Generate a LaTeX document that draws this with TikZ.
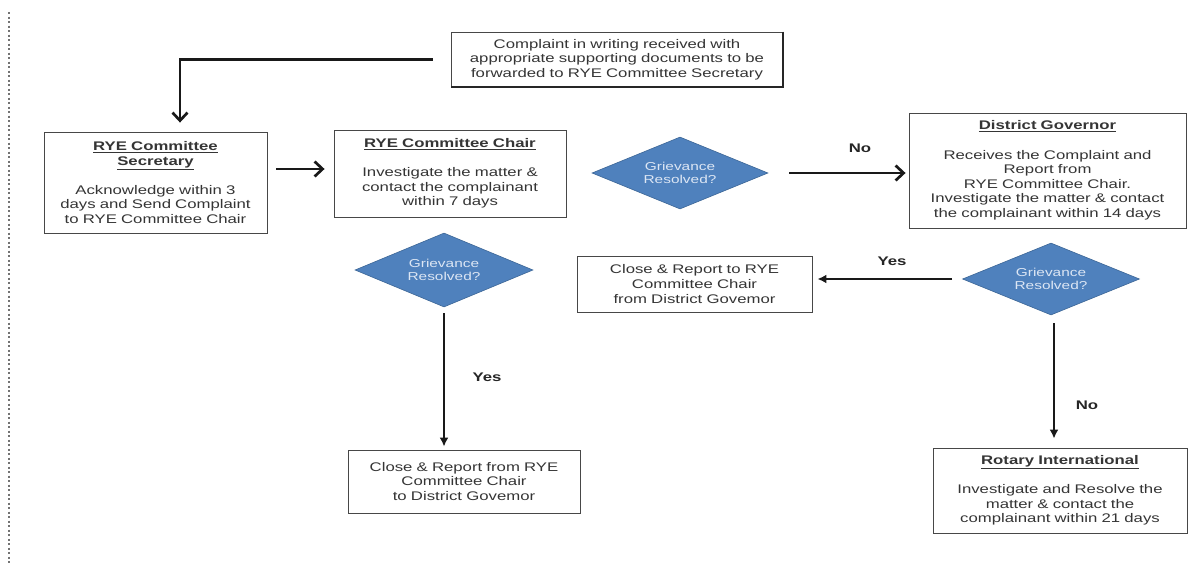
\documentclass[tikz,border=0pt]{standalone}
\usepackage{fontspec}
\setmainfont{Liberation Sans}[FakeStretch=1.34]
\usetikzlibrary{shapes.geometric,arrows.meta,calc}
\definecolor{dblue}{HTML}{4F81BD}
\definecolor{dbord}{HTML}{3C6696}
\definecolor{dtext}{HTML}{DCE6F4}
\definecolor{btext}{HTML}{353535}
\begin{document}
\begin{tikzpicture}[x=1pt,y=-1pt,
  box/.style={draw=black!72, line width=0.9pt, fill=white, align=center,
    inner xsep=4pt, inner ysep=0pt, text=btext,
    font=\fontsize{12.5}{14.6}\selectfont},
  dia/.style={diamond, fill=dblue, draw=dbord, line width=0.6pt, inner sep=0pt,
    aspect=2.4, align=center, text=dtext, font=\fontsize{11.5}{13.5}\selectfont},
  flow/.style={line width=2.7pt, draw=black!90},
  barb/.style={-{Straight Barb[length=8pt,width=15pt]}},
  tri/.style={-{Latex[length=9pt,width=9pt]}},
  lab/.style={font=\bfseries\fontsize{12.5}{14}\selectfont, text=black!85}
]
\useasboundingbox (0,0) rectangle (1188,565);
\fill[white] (0,0) rectangle (1188,565);
% left dotted margin line
\draw[black!55, line width=1.1pt, dash pattern=on 2pt off 2.5pt] (9,12) -- (9,565);

% boxes
\node[box, text width=324pt, minimum height=55pt] (T) at (617,59.5)
  {Complaint in writing received with\\appropriate supporting documents to be\\forwarded to RYE Committee Secretary};
\draw[black!85, line width=2pt] (T.north east) -- (T.south east) -- (T.south west);

\node[box, text width=215pt, minimum height=101pt] (S) at (155.5,182.5)
  {\textbf{\underline{RYE Committee}}\\\textbf{\underline{Secretary}}\\[14.5pt]Acknowledge within 3\\days and Send Complaint\\to RYE Committee Chair};

\node[box, text width=224pt, minimum height=87pt] (C) at (450,173.5)
  {\textbf{\underline{RYE Committee Chair}}\\[14.5pt]Investigate the matter \&\\contact the complainant\\within 7 days};

\node[dia, minimum width=176pt, minimum height=72pt] (D1) at (680,173) {Grievance\\Resolved?};

\node[box, text width=269pt, minimum height=115pt] (DG) at (1047.5,170.5)
  {\textbf{\underline{District Governor}}\\[14.5pt]Receives the Complaint and\\Report from\\RYE Committee Chair.\\Investigate the matter \& contact\\the complainant within 14 days};

\node[dia, minimum width=178pt, minimum height=74pt] (D2) at (444,270) {Grievance\\Resolved?};

\node[dia, minimum width=177pt, minimum height=72pt] (D3) at (1051,279) {Grievance\\Resolved?};

\node[box, text width=227pt, minimum height=56pt] (CL1) at (694.5,284)
  {Close \& Report to RYE\\Committee Chair\\from District Govemor};

\node[box, text width=224pt, minimum height=63pt] (CL2) at (464,481.5)
  {Close \& Report from RYE\\Committee Chair\\to District Govemor};

\node[box, text width=246pt, minimum height=85pt] (RI) at (1060,490.5)
  {\textbf{\underline{Rotary International}}\\[14.5pt]Investigate and Resolve the\\matter \& contact the\\complainant within 21 days};

% connectors
\draw[flow, barb, shorten <=18pt, shorten >=9pt] (T.west) -| ([xshift=24.5pt]S.north);
\draw[flow, barb, shorten <=9pt, shorten >=9pt] ([yshift=13.5pt]S.east) -- ([yshift=13.5pt]S.east -| C.west);
\draw[flow, barb, shorten <=21pt, shorten >=3pt] (D1.east) -- (D1.east -| DG.west);
\draw[flow, tri, shorten <=6pt, shorten >=3pt] (D2.south) -- (D2.south |- CL2.north);
\draw[flow, tri, shorten <=10pt, shorten >=5pt] (D3.west) -- (D3.west -| CL1.east);
\draw[flow, tri, shorten <=8pt, shorten >=9pt] ([xshift=3pt]D3.south) -- ([xshift=3pt]D3.south |- RI.north);

% labels
\node[lab] (no1) at (860,148) {No};
\node[lab] (yes1) at (487,377) {Yes};
\node[lab] (yes2) at (892,261) {Yes};
\node[lab] (no2) at (1087,405) {No};
\end{tikzpicture}
\end{document}
